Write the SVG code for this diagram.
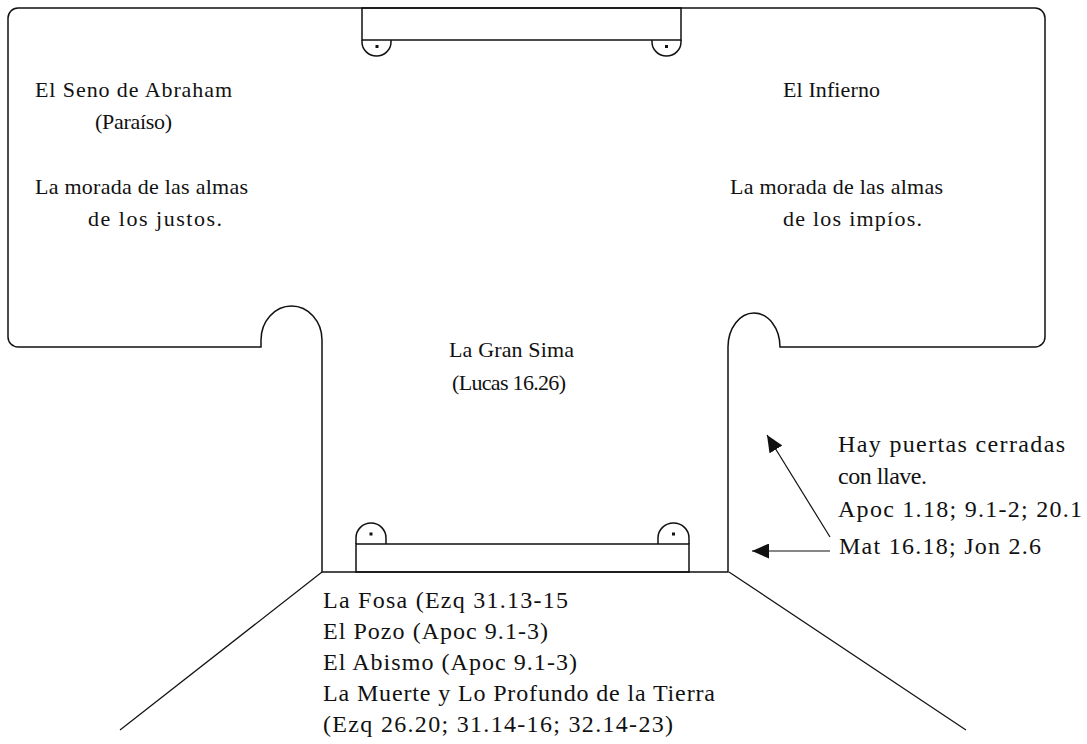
<svg xmlns="http://www.w3.org/2000/svg" width="1087" height="744" viewBox="0 0 1087 744">
<defs>
<style>
.ln{fill:none;stroke:#111;stroke-width:1.5}
.thin{fill:none;stroke:#111;stroke-width:1.2}
.t{font-family:"Liberation Serif","Times New Roman",serif;font-size:22px;fill:#111}
.b{font-family:"Liberation Serif","Times New Roman",serif;font-size:24px;fill:#111}
.dot{fill:#111}
</style>
<marker id="ah" viewBox="0 0 17 15" refX="17" refY="7.5" markerWidth="17" markerHeight="15" markerUnits="userSpaceOnUse" orient="auto">
<path d="M0,0 L17,7.5 L0,15 z" fill="#111"/>
</marker>
</defs>
<rect width="1087" height="744" fill="#fff"/>
<g id="outline">
<path class="ln" d="M8 18 A10 10 0 0 1 18 8 L1035 8 A10 10 0 0 1 1045 18 L1045 337 A10 10 0 0 1 1035 347 L780 347 A26 34 0 0 0 728 347 L728 572 L322 572 L322 340 A30.5 34 0 0 0 261 340 L261 347 L18 347 A10 10 0 0 1 8 337 Z"/>
</g>
<g id="top-gate">
<rect class="ln" x="362" y="8" width="319" height="32"/>
<path class="ln" d="M362 40 L362 42 A14.5 14 0 0 0 391 42 L391 40"/>
<path class="ln" d="M652 40 L652 42 A14.5 14 0 0 0 681 42 L681 40"/>
<rect class="dot" x="375.5" y="45" width="3" height="3"/>
<rect class="dot" x="665" y="45" width="3" height="3"/>
</g>
<g id="bottom-gate">
<rect class="ln" x="356" y="544" width="333" height="28"/>
<path class="ln" d="M356 544 L356 538 A15 15 0 0 1 386 538 L386 544"/>
<path class="ln" d="M658 544 L658 538 A15.5 15 0 0 1 689 538 L689 544"/>
<rect class="dot" x="369.5" y="532.5" width="3" height="3"/>
<rect class="dot" x="672" y="532.5" width="3" height="3"/>
</g>
<g id="pit">
<line class="thin" x1="322" y1="572" x2="120" y2="730"/>
<line class="thin" x1="729" y1="572" x2="966" y2="730"/>
</g>
<g id="paradise">
<text class="t" x="35" y="97" textLength="197" lengthAdjust="spacing">El Seno de Abraham</text>
<text class="t" x="95" y="129" textLength="77" lengthAdjust="spacing">(Paraíso)</text>
<text class="t" x="35" y="194" textLength="213" lengthAdjust="spacing">La morada de las almas</text>
<text class="t" x="88" y="226" textLength="134" lengthAdjust="spacing">de los justos.</text>
</g>
<g id="hell">
<text class="t" x="783" y="97" textLength="97" lengthAdjust="spacing">El Infierno</text>
<text class="t" x="730" y="194" textLength="213" lengthAdjust="spacing">La morada de las almas</text>
<text class="t" x="783" y="226" textLength="139" lengthAdjust="spacing">de los impíos.</text>
</g>
<g id="chasm">
<text class="t" x="449" y="357" textLength="125" lengthAdjust="spacing">La Gran Sima</text>
<text class="t" x="452" y="390" textLength="114" lengthAdjust="spacing">(Lucas 16.26)</text>
</g>
<g id="gates-note">
<text class="b" x="838" y="452" textLength="227" lengthAdjust="spacing">Hay puertas cerradas</text>
<text class="b" x="838" y="484" textLength="89" lengthAdjust="spacing">con llave.</text>
<text class="b" x="838" y="517" textLength="244" lengthAdjust="spacing">Apoc 1.18; 9.1-2; 20.1</text>
<text class="b" x="839" y="554" textLength="202" lengthAdjust="spacing">Mat 16.18; Jon 2.6</text>
</g>
<g id="abyss">
<text class="b" x="323" y="608" textLength="245" lengthAdjust="spacing">La Fosa (Ezq 31.13-15</text>
<text class="b" x="323" y="639" textLength="225" lengthAdjust="spacing">El Pozo (Apoc 9.1-3)</text>
<text class="b" x="323" y="670" textLength="254" lengthAdjust="spacing">El Abismo (Apoc 9.1-3)</text>
<text class="b" x="323" y="701" textLength="392" lengthAdjust="spacing">La Muerte y Lo Profundo de la Tierra</text>
<text class="b" x="323" y="732" textLength="350" lengthAdjust="spacing">(Ezq 26.20; 31.14-16; 32.14-23)</text>
</g>
<g id="connectors">
<line class="thin" x1="830" y1="537" x2="767" y2="435" marker-end="url(#ah)"/>
<line class="thin" x1="830" y1="551" x2="752" y2="551" marker-end="url(#ah)"/>
</g>
</svg>
